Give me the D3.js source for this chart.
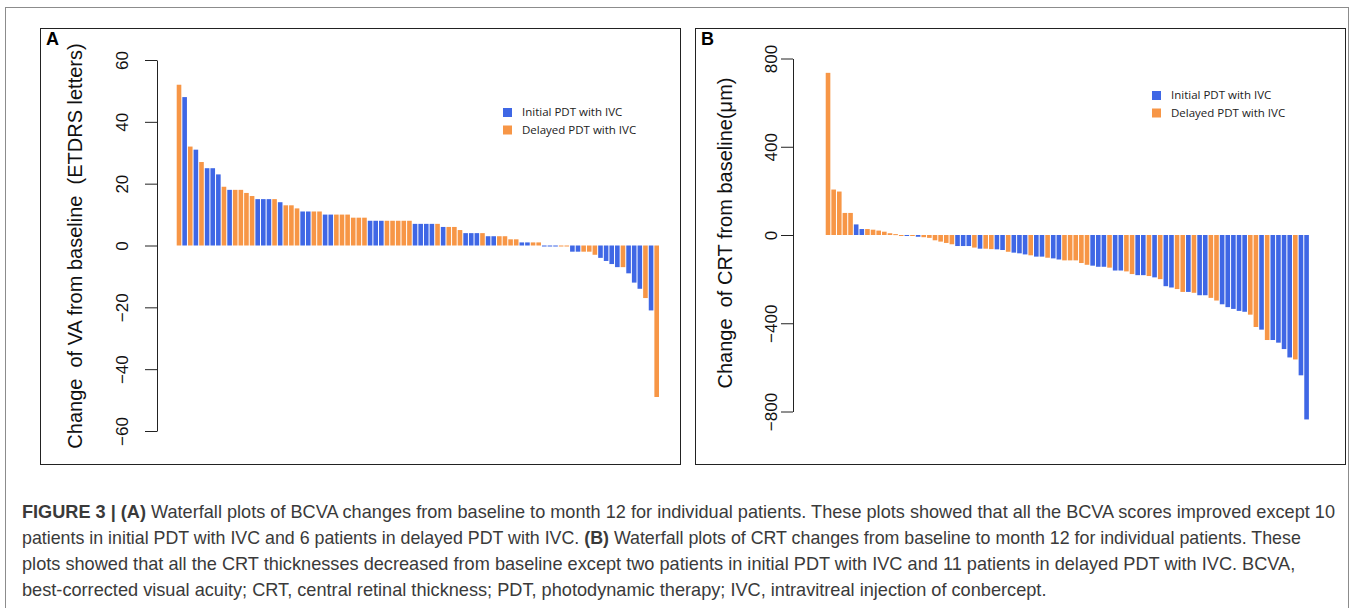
<!DOCTYPE html>
<html><head><meta charset="utf-8">
<script src="https://cdn.jsdelivr.net/npm/d3@7"></script>
<style>body{margin:0;background:#fff}</style>
</head><body>
<svg id="c" width="1355" height="608"></svg>
<script>
// ---------- DATA ----------
const patientsA = d3.range(1, 87);
const valuesA = [52,48,32,31,27,25,25,23,19,18, 18,18,17,16,15,15,15,15,14,13,
  13,12,11,11,11,11,10,10,10,10, 10,9,9,9,8,8,8,8,8,8, 8,8,7,7,7,7,7,6,6,6,
  5,4,4,4,4,3,3,3,3,2, 2,1,1,1,1,0,0,0,0,0, -2,-2,-2,-2,-3,-4,-5,-6,-7,-7,
  -9,-12,-14,-17,-21,-49];
const groupsA = ("DIDIDIIIDI"+"DDDDIIIDID"+"DDIIDDIIDD"+"DDDDIIIDDD"+"DDIIIIDIDD"+
  "DIIIDIIDDD"+"DIIDDIIIDD"+"IIDDDIIIID"+"IIIDID").split("");
const ticksA = [-60,-40,-20,0,20,40,60];

const patientsB = d3.range(1, 87);
const valuesB = [735,206,197,100,100,48,27,27,24,20, 15,8,4,-2,-1,-4,-8,-10,-13,-24,
  -30,-36,-42,-50,-50,-50,-57,-62,-62,-64, -65,-68,-76,-80,-83,-88,-92,-98,-98,-103,
  -106,-111,-115,-115,-115,-127,-135,-139,-144,-144, -148,-161,-161,-165,-177,-182,-182,-186,-192,-200,
  -232,-238,-245,-258,-258,-262,-273,-273,-285,-297, -314,-327,-335,-344,-348,-361,-417,-429,-476,-476,
  -488,-517,-555,-564,-636,-836];
const groupsB = ("DDDDDIIDDD"+"DDDDIDIDDD"+"DDDIIIDIDD"+"IIDIIIDIID"+"IIDDDDDIII"+
  "DIIDDIIDID"+"IIDDIDIIDD"+"IIIIIDDIDI"+"IIIDII").split("");
const ticksB = [-800,-400,0,400,800];

const legendLabels = ["Initial PDT with IVC", "Delayed PDT with IVC"];
const groupKeys = ["I", "D"];

// ---------- DRAW ----------
const svg = d3.select("#c");
const color = d3.scaleOrdinal().domain(groupKeys).range(["#3F67E5", "#F79646"]);
const axisFont = "'Liberation Sans', Arial, sans-serif";

// outer frame
svg.append("rect").attr("x", 5.5).attr("y", 7.5).attr("width", 1343).attr("height", 640)
  .attr("fill", "none").attr("stroke", "#8c8c8c").attr("stroke-width", 1);

function panel(cfg) {
  const g = svg.append("g");
  g.append("rect").attr("x", cfg.box[0] + 0.5).attr("y", cfg.box[1] + 0.5)
    .attr("width", cfg.box[2] - cfg.box[0]).attr("height", cfg.box[3] - cfg.box[1])
    .attr("fill", "none").attr("stroke", "#222").attr("stroke-width", 1);
  g.append("text").attr("x", cfg.box[0] + 6).attr("y", cfg.box[1] + 17)
    .attr("font-family", axisFont).attr("font-weight", "bold").attr("font-size", 18)
    .text(cfg.letter);

  const x = d3.scaleBand().domain(cfg.cats).range(cfg.xRange).padding(0.18);
  const y = d3.scaleLinear().domain(cfg.yDomain).range(cfg.yRange);

  g.append("g").selectAll("rect").data(cfg.values.map((v, i) => ({v, c: cfg.cats[i], grp: cfg.groups[i]})))
    .join("rect")
    .attr("x", d => x(d.c)).attr("width", x.bandwidth())
    .attr("y", d => d.v >= 0 ? y(d.v) : y(0))
    .attr("height", d => Math.max(1, Math.abs(y(d.v) - y(0))))
    .attr("fill", d => color(d.grp));

  const ax = g.append("g").attr("transform", `translate(${cfg.axisX},0)`)
    .call(d3.axisLeft(y).tickValues(cfg.ticks).tickSize(12).tickSizeOuter(0).tickFormat(d3.format("d")));
  ax.select(".domain").attr("stroke", "#222");
  ax.selectAll(".tick line").attr("stroke", "#222");
  ax.selectAll(".tick text")
    .attr("x", null).attr("dy", "0.35em").attr("text-anchor", "middle")
    .attr("transform", `translate(${-cfg.labelOff},0) rotate(-90)`)
    .attr("font-family", axisFont).attr("font-size", 17).attr("fill", "#111");

  g.append("text")
    .attr("transform", `translate(${cfg.titleX},${cfg.titleY}) rotate(-90)`)
    .attr("text-anchor", "middle").attr("dy", "0.35em")
    .attr("font-family", axisFont).attr("font-size", 20).attr("fill", "#111")
    .style("white-space", "pre")
    .text(cfg.title);

  const lg = g.append("g").attr("transform", `translate(${cfg.legend[0]},${cfg.legend[1]})`);
  groupKeys.forEach((k, i) => {
    lg.append("rect").attr("x", 0).attr("y", i * 17.5).attr("width", 9).attr("height", 9)
      .attr("fill", color(k));
    lg.append("text").attr("x", 19).attr("y", i * 17.5 + 8)
      .attr("font-family", "'Open Sans', sans-serif").attr("font-size", 11.5).attr("fill", "#222")
      .text(legendLabels[i]);
  });
}

panel({
  letter: "A", box: [40, 28, 680, 464], cats: patientsA, values: valuesA, groups: groupsA,
  xRange: [175.7, 660], yDomain: [-60, 60], yRange: [431, 60], ticks: ticksA,
  axisX: 157, labelOff: 35, titleX: 75, titleY: 246,
  title: "Change  of VA from baseline  (ETDRS letters)", legend: [503, 108]
});
panel({
  letter: "B", box: [695, 28, 1345, 464], cats: patientsB, values: valuesB, groups: groupsB,
  xRange: [824.7, 1309.9], yDomain: [-800, 800], yRange: [411.5, 58.5], ticks: ticksB,
  axisX: 793, labelOff: 22, titleX: 725, titleY: 233,
  title: "Change  of CRT from baseline(\u03bcm)", legend: [1152, 91]
});

// ---------- CAPTION ----------
const capFont = "'Liberation Sans', Arial, sans-serif";
const captionLines = [
  {y: 518, w: 1314, parts: [["FIGURE 3 | (A)", true], [" Waterfall plots of BCVA changes from baseline to month 12 for individual patients. These plots showed that all the BCVA scores improved except 10", false]]},
  {y: 544, w: 1280, parts: [["patients in initial PDT with IVC and 6 patients in delayed PDT with IVC. ", false], ["(B)", true], [" Waterfall plots of CRT changes from baseline to month 12 for individual patients. These", false]]},
  {y: 570, w: 1274, parts: [["plots showed that all the CRT thicknesses decreased from baseline except two patients in initial PDT with IVC and 11 patients in delayed PDT with IVC. BCVA,", false]]},
  {y: 596, w: 1025, parts: [["best-corrected visual acuity; CRT, central retinal thickness; PDT, photodynamic therapy; IVC, intravitreal injection of conbercept.", false]]}
];
captionLines.forEach(l => {
  const t = svg.append("text").attr("x", 0).attr("y", 0)
    .attr("font-family", capFont).attr("font-size", 18).attr("fill", "#3a3a3a")
    .style("white-space", "pre");
  l.parts.forEach(p => t.append("tspan").attr("font-weight", p[1] ? "bold" : "normal").text(p[0]));
  const natural = t.node().getComputedTextLength();
  t.attr("transform", `translate(22,${l.y}) scale(${l.w / natural},1)`);
});
</script>
</body></html>
